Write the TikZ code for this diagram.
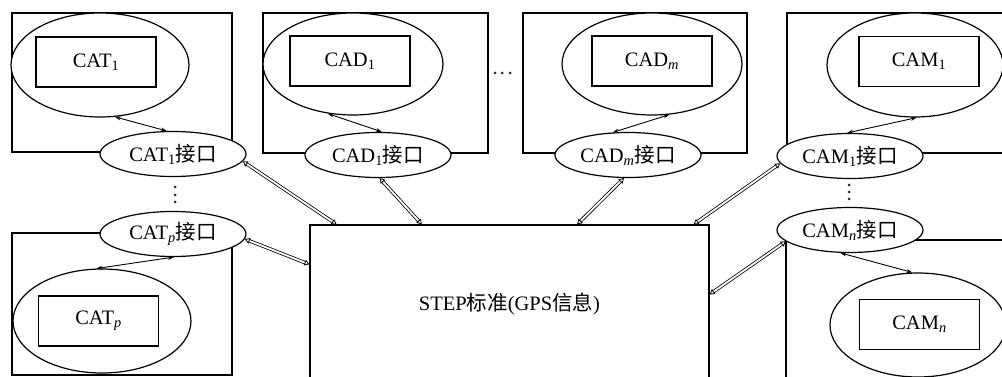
\documentclass[tikz,border=0pt]{standalone}
\usepackage{fontspec}
\setmainfont{Liberation Serif}
\newfontfamily\cjk{Noto Sans CJK SC}
\usetikzlibrary{arrows.meta,shapes.geometric,calc}

\tikzset{
  frame/.style={line width=1.2pt},
  soft/.style={draw, fill=white, ellipse, line width=1.2pt, inner sep=0pt},
  inner/.style={draw, fill=white, line width=1.2pt, minimum width=120pt, minimum height=50pt, inner sep=0pt},
  port/.style={draw, fill=white, ellipse, line width=1.2pt, minimum width=146pt, minimum height=45pt, inner sep=0pt},
  link/.style={line width=0.9pt, {Stealth[length=6pt,width=4pt]}-{Stealth[length=6pt,width=4pt]}},
  xfer/.style={double, line width=0.8pt, double distance=1.8pt,
    {Triangle[open,length=5pt,width=6pt]}-{Triangle[open,length=5pt,width=6pt]}},
  dotmark/.style={circle, fill=black!85, inner sep=0pt, minimum size=3pt}
}
\newcommand{\lbl}[2]{#1\textsubscript{#2}}
\newcommand{\port}[2]{#1\textsubscript{#2}{\cjk 接口}}

\begin{document}
\begin{tikzpicture}[x=1pt, y=-1pt, font=\fontsize{20.5}{24}\selectfont]
\useasboundingbox (0,0) rectangle (1002,377);
\clip (0,0) rectangle (1002,377);

% outer frames of the application systems
\draw[frame] (12,13) rectangle (232,152);
\draw[frame] (263,13) rectangle (488,153);
\draw[frame] (523,13) rectangle (747,153);
\draw[frame] (787,13) rectangle (1010,153);
\draw[frame] (12,233) rectangle (232,375);
\draw[frame] (786,240) rectangle (1010,390);

% STEP standard block
\node[draw, line width=1.2pt, minimum width=399pt, minimum height=157pt, inner sep=0pt]
  (step) at (509.5,303.5) {STEP{\cjk 标准}(GPS{\cjk 信息})};

% applications: ellipse with the system box inside
\node[soft, minimum width=178pt, minimum height=104pt] (cat1e) at (100,65) {};
\node[inner] (cat1) at (96,62) {\lbl{CAT}{1}};
\node[soft, minimum width=180pt, minimum height=102pt] (cad1e) at (353,64) {};
\node[inner] (cad1) at (350,61) {\lbl{CAD}{1}};
\node[soft, minimum width=180pt, minimum height=102pt] (cadme) at (652,64) {};
\node[inner] (cadm) at (652,61) {\lbl{CAD}{\itshape m}};
\node[soft, minimum width=176pt, minimum height=104pt] (cam1e) at (915,65) {};
\node[inner] (cam1) at (919,61.5) {\lbl{CAM}{1}};
\node[soft, minimum width=178pt, minimum height=104pt] (catpe) at (102,321) {};
\node[inner] (catp) at (98.5,321) {\lbl{CAT}{\itshape p}};
\node[soft, minimum width=176pt, minimum height=104pt] (camne) at (918,325) {};
\node[inner] (camn) at (919.5,324.5) {\lbl{CAM}{\itshape n}};

% interfaces
\node[port] (cat1i) at (173,154) {\port{CAT}{1}};
\node[port] (cad1i) at (378,155) {\port{CAD}{1}};
\node[port] (cadmi) at (628,155) {\port{CAD}{\itshape m}};
\node[port] (cam1i) at (850,156) {\port{CAM}{1}};
\node[port] (catpi) at (173,234) {\port{CAT}{\itshape p}};
\node[port] (camni) at (850,230) {\port{CAM}{\itshape n}};

% ellipsis marks
\foreach \y in {187,195,202} \node[dotmark] at (175,\y) {};
\foreach \y in {185,192,199} \node[dotmark] at (849,\y) {};
\foreach \x in {495,502,510} \node[dotmark] at (\x,73) {};

% application <-> interface
\draw[link] (cat1e.-74) -- (cat1i.105);
\draw[link] (cad1e.-117) -- (cad1i.80);
\draw[link] (cadme.-71) -- (cadmi.124);
\draw[link] (cam1e.-88) -- (cam1i.97);
\draw[link] (catpe.96) -- (catpi.-88);
\draw[link] (camne.96) -- (camni.-113);

% interface <-> STEP
\draw[xfer] (cat1i.-6) -- ($(step.north west)!0.068!(step.north east)$);
\draw[xfer] (cad1i.-86) -- ($(step.north west)!0.281!(step.north east)$);
\draw[xfer] (cadmi.-100) -- ($(step.north west)!0.669!(step.north east)$);
\draw[xfer] (cam1i.186) -- ($(step.north west)!0.960!(step.north east)$);
\draw[xfer] (catpi.-4) -- ($(step.north west)+(0,40)$);
\draw[xfer] (camni.190) -- ($(step.north east)+(0,70)$);
\end{tikzpicture}
\end{document}
